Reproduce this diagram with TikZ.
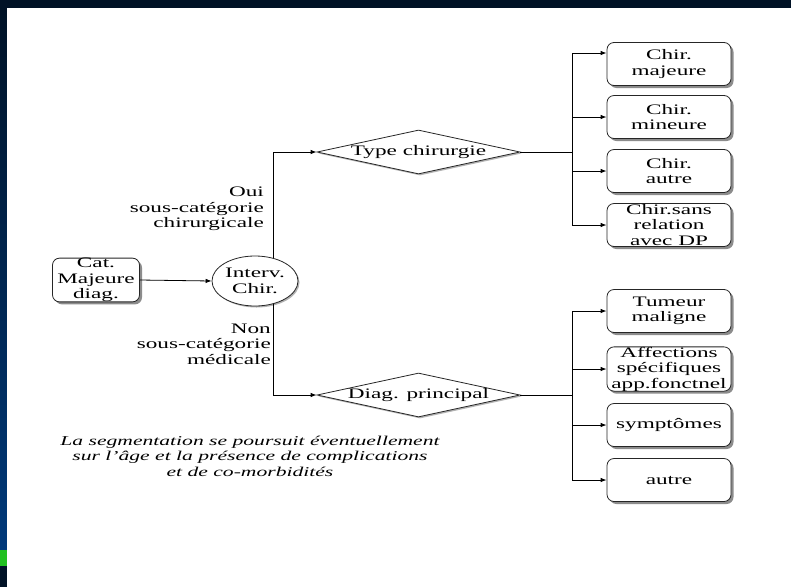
\documentclass[tikz,border=0pt]{standalone}
\usepackage{fontspec}
\setmainfont[FakeStretch=1.6]{Liberation Serif}
\usepackage{xcolor}
\usetikzlibrary{shapes.geometric, shadows, arrows.meta}

\definecolor{fondnuit}{HTML}{001226}
\definecolor{fondbleu}{HTML}{00397A}
\definecolor{vertpre}{HTML}{21C021}

\begin{document}
\begin{tikzpicture}[x=1pt, y=-1pt,
        font=\fontsize{14.5}{15.5}\selectfont,
        ombre/.style={drop shadow={shadow xshift=2.5pt, shadow yshift=-2.5pt, fill=black!45, opacity=1}},
        boite/.style={draw=black!85, line width=0.8pt, fill=white, rounded corners=7pt, minimum width=124pt, minimum height=43pt, inner sep=0pt, align=center, ombre},
        losange/.style={draw=black!85, line width=0.8pt, fill=white, diamond, aspect=4.6, minimum width=203pt, minimum height=44pt, inner sep=0pt, drop shadow={shadow xshift=1.5pt, shadow yshift=-1.5pt, fill=black!30, opacity=1}},
        fleche/.style={-{Latex[length=6pt, width=4.5pt]}, line width=0.8pt},
        trait/.style={line width=0.8pt}]
        \useasboundingbox (0,0) rectangle (791,587);
        \fill[fondnuit] (0,0) rectangle (791,587);
        \shade[top color=fondnuit, bottom color=fondbleu] (0,8) rectangle (7,550);
        \fill[vertpre] (0,550) rectangle (7,566);
        \fill[white] (7,8) rectangle (791,587);

        \node[boite, minimum width=87pt] (cat) at (96,280) {Cat.\\Majeure\\diag.};
        \node[draw=black!85, line width=0.8pt, fill=white, ellipse, minimum width=86pt, minimum height=50pt, inner sep=0pt, align=center, drop shadow={shadow xshift=1.5pt, shadow yshift=-1.5pt, fill=black!30, opacity=1}] (ic) at (255,281) {Interv.\\Chir.};

        \node[losange] (tc) at (418.5,152) {Type chirurgie};
        \node[losange] (dp) at (418.5,395) {Diag. principal};

        \node[boite] (b1) at (669,64) {Chir.\\majeure};
        \node[boite] (b2) at (669,117) {Chir.\\mineure};
        \node[boite] (b3) at (669,171) {Chir.\\autre};
        \node[boite] (b4) at (669,225) {Chir.sans\\relation\\avec DP};

        \node[boite] (c1) at (669,311) {Tumeur\\maligne};
        \node[boite] (c2) at (669,369) {Affections\\spécifiques\\app.fonctnel};
        \node[boite] (c3) at (669,425) {symptômes};
        \node[boite] (c4) at (669,480) {autre};

        \node[anchor=east, align=right, inner sep=0pt] (oui) at (264,209) {Oui\\sous-catégorie\\chirurgicale};
        \node[anchor=east, align=right, inner sep=0pt] (non) at (271,344) {Non\\sous-catégorie\\médicale};

        \node[align=center, font=\itshape\fontsize{13.5}{15.5}\selectfont] (seg) at (250,456) {La segmentation se poursuit éventuellement\\sur l’âge et la présence de complications\\et de co-morbidités};

        \draw[fleche] (cat.east) -- (ic.west);
        \draw[fleche] (ic.52) |- (tc.west);
        \draw[fleche] (ic.-52) |- (dp.west);

        \coordinate (tj) at (572,152);
        \coordinate (b1in) at ([yshift=11pt]b1.west);
        \draw[trait] (tc.east) -- (tj);
        \draw[trait] (tj |- b1in) -- (tj |- b4.west);
        \foreach \b in {b1in, b2.west, b3.west, b4.west}
                \draw[fleche] (tj |- \b) -- (\b);

        \coordinate (dj) at (572,395);
        \draw[trait] (dp.east) -- (dj);
        \draw[trait] (dj |- c1.west) -- (dj |- c4.west);
        \foreach \c in {c1, c2, c3, c4}
                \draw[fleche] (dj |- \c.west) -- (\c.west);
    \end{tikzpicture}
\end{document}
